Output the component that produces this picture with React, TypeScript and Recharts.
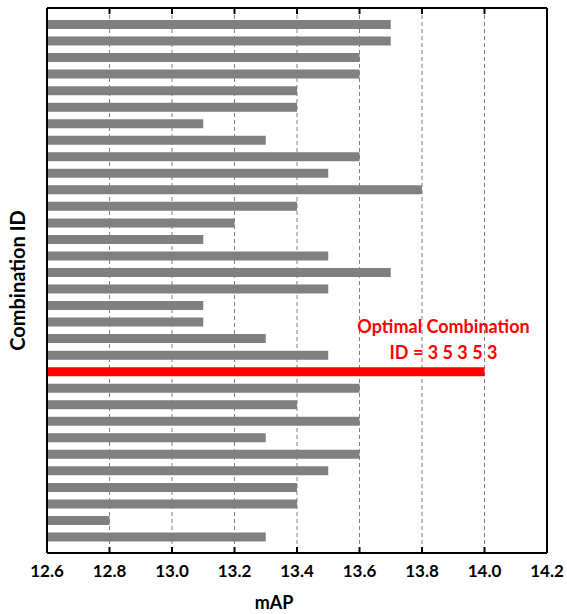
import React from "react";
import {
  BarChart,
  Bar,
  Cell,
  XAxis,
  YAxis,
  CartesianGrid,
  LabelList,
  Label,
} from "recharts";

// combination ids, top to bottom
const comboIds = [
  "1", "2", "3", "4", "5", "6", "7", "8", "9", "10", "11", "12", "13", "14", "15", "16",
  "17", "18", "19", "20", "21", "22", "23", "24", "25", "26", "27", "28", "29", "30", "31", "32",
];

const mapValues = [
  13.7, 13.7, 13.6, 13.6, 13.4, 13.4, 13.1, 13.3, 13.6, 13.5, 13.8, 13.4, 13.2, 13.1, 13.5, 13.7,
  13.5, 13.1, 13.1, 13.3, 13.5, 14.0, 13.6, 13.4, 13.6, 13.3, 13.6, 13.5, 13.4, 13.4, 12.8, 13.3,
];

const optimalId = "22";
const optimalLabel = ["Optimal Combination", "ID = 3 5 3 5 3"];

const xTicks = [12.6, 12.8, 13.0, 13.2, 13.4, 13.6, 13.8, 14.0, 14.2];

const data = comboIds.map((id, i) => ({ id, map: mapValues[i] }));

const FONT = "Lato, 'Open Sans', sans-serif";
const GRAY = "#808080";
const RED = "#ff0000";

const OptimalNote = (props: any) => {
  const { x, y, width, height, value } = props;
  if (value !== optimalId) return null;
  const cx = x + width - 41;
  const cy = y + height / 2;
  return (
    <g fontFamily={FONT} fontWeight={700} fontSize={18} fill={RED} textAnchor="middle">
      <text x={cx} y={cy - 45} dy="0.35em">{optimalLabel[0]}</text>
      <text x={cx} y={cy - 19} dy="0.35em">{optimalLabel[1]}</text>
    </g>
  );
};

const YTitle = (props: any) => {
  const { viewBox } = props;
  const cy = viewBox.y + viewBox.height / 2;
  return (
    <text
      x={17}
      y={cy}
      transform={`rotate(-90, 17, ${cy})`}
      textAnchor="middle"
      dominantBaseline="central"
      fontFamily={FONT}
      fontWeight={700}
      fontSize={20}
      fill="#000"
    >
      Combination ID
    </text>
  );
};

const XTitle = () => (
  <text
    x={274}
    y={602}
    textAnchor="middle"
    dominantBaseline="central"
    fontFamily={FONT}
    fontWeight={700}
    fontSize={18}
    fill="#000"
  >
    mAP
  </text>
);

export default function App() {
  return (
    <div style={{ position: "absolute", left: 0, top: 0, width: 567, height: 614, background: "#fff" }}>
      <BarChart
        width={567}
        height={614}
        data={data}
        layout="vertical"
        margin={{ top: 0, right: 0, bottom: 0, left: 0 }}
      >
        <CartesianGrid
          horizontal={false}
          stroke={GRAY}
          strokeDasharray="4 3"
          strokeWidth={1}
        />
        <XAxis
          type="number"
          dataKey="map"
          domain={[12.6, 14.2]}
          ticks={xTicks}
          allowDataOverflow
          height={61}
          axisLine={{ stroke: "#000", strokeWidth: 2 }}
          tickLine={{ stroke: "#000", strokeWidth: 2 }}
          tickSize={-6}
          tickMargin={18}
          tickFormatter={(v: number) => v.toFixed(1)}
          tick={{ fill: "#000", fontFamily: FONT, fontWeight: 700, fontSize: 17 }}
          interval={0}
        >
          <Label content={<XTitle />} />
        </XAxis>
        <XAxis
          xAxisId="top"
          orientation="top"
          type="number"
          domain={[12.6, 14.2]}
          ticks={xTicks}
          allowDataOverflow
          height={8}
          axisLine={{ stroke: "#000", strokeWidth: 2 }}
          tickLine={{ stroke: "#000", strokeWidth: 2 }}
          tickSize={-6}
          tickFormatter={() => ""}
          interval={0}
        />
        <YAxis
          type="category"
          dataKey="id"
          width={47}
          padding={{ top: 8, bottom: 8 }}
          axisLine={{ stroke: "#000", strokeWidth: 2 }}
          tickLine={false}
          tick={false}
        >
          <Label content={<YTitle />} />
        </YAxis>
        <YAxis
          yAxisId="right"
          orientation="right"
          type="category"
          dataKey="id"
          width={20}
          padding={{ top: 8, bottom: 8 }}
          axisLine={{ stroke: "#000", strokeWidth: 2 }}
          tickLine={false}
          tick={false}
        />
        <Bar dataKey="map" barSize={9} isAnimationActive={false}>
          {data.map((d) => (
            <Cell key={d.id} fill={d.id === optimalId ? RED : GRAY} />
          ))}
          <LabelList dataKey="id" content={<OptimalNote />} />
        </Bar>
      </BarChart>
    </div>
  );
}
